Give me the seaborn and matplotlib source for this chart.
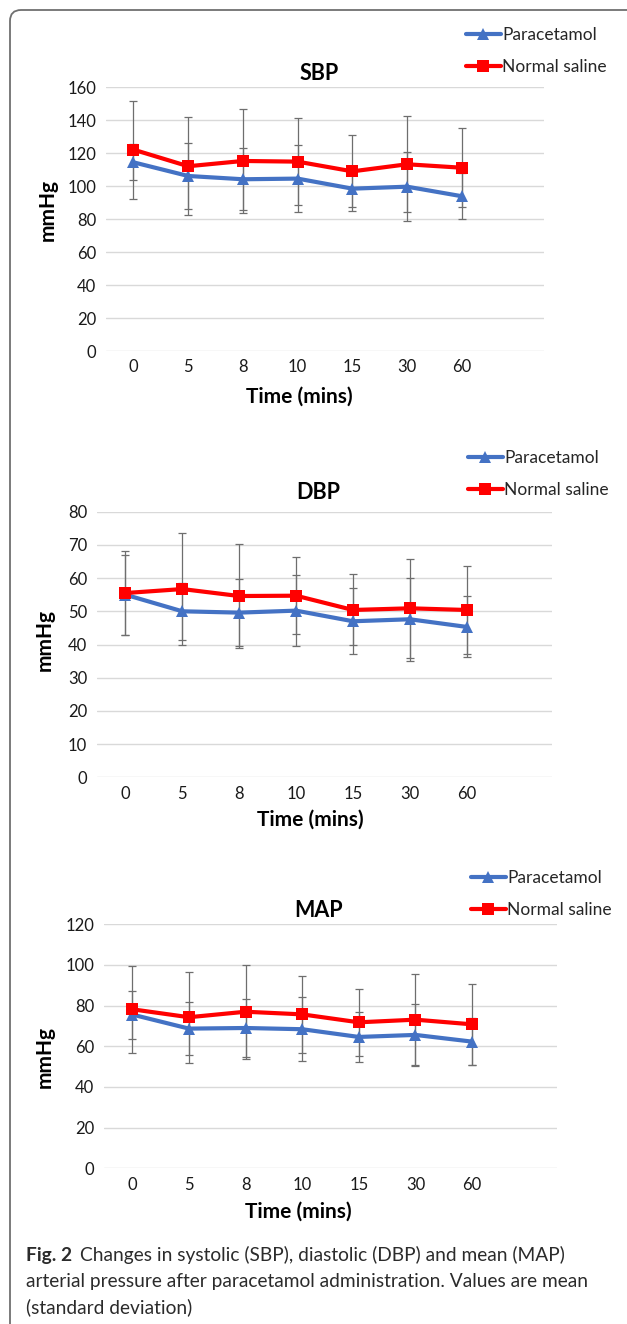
"""
Fig. 2 재현: SBP / DBP / MAP 변화 (평균 ± 표준편차)
"""

import numpy as np
import pandas as pd
import matplotlib
matplotlib.use('Agg')
import matplotlib.pyplot as plt
from matplotlib.patches import FancyBboxPatch
import seaborn as sns

# ---- 데이터 ----
times = ['0', '5', '8', '10', '15', '30', '60']
groups = ['Paracetamol', 'Normal saline']

sbp_para = [114.5, 106.2, 104.2, 104.6, 98.5, 99.7, 93.9]
sbp_para_sd = [11.0, 19.8, 18.8, 20.2, 13.3, 20.9, 13.9]
sbp_saline = [122.2, 112.1, 115.3, 114.9, 109.0, 113.3, 111.2]
sbp_saline_sd = [29.7, 29.7, 31.5, 26.3, 21.9, 29.1, 24.1]

dbp_para = [55.0, 50.0, 49.6, 50.2, 47.0, 47.6, 45.3]
dbp_para_sd = [12.0, 8.6, 10.0, 10.6, 9.9, 12.5, 9.2]
dbp_saline = [55.5, 56.7, 54.6, 54.7, 50.4, 50.9, 50.4]
dbp_saline_sd = [12.7, 16.9, 15.6, 11.6, 10.7, 14.9, 13.2]

map_para = [75.6, 68.7, 69.0, 68.4, 64.6, 65.6, 62.3]
map_para_sd = [11.8, 13.1, 14.4, 15.7, 12.3, 15.2, 11.6]
map_saline = [78.2, 74.3, 77.0, 75.7, 71.8, 73.1, 70.8]
map_saline_sd = [21.3, 22.3, 23.2, 19.1, 16.6, 22.5, 19.9]

titles = ['SBP', 'DBP', 'MAP']
y_max = [160, 80, 120]
y_step = [20, 10, 20]

caption_bold = 'Fig. 2'
caption_lines = ['Changes in systolic (SBP), diastolic (DBP) and mean (MAP)',
                 'arterial pressure after paracetamol administration. Values are mean',
                 '(standard deviation)']

# ---- 스타일 ----
sns.set_theme(style='white')
plt.rcParams['font.family'] = ['Lato', 'DejaVu Sans']

W, H = 627, 1324
colors = {'Paracetamol': '#4472C4', 'Normal saline': '#FF0000'}
markers = {'Paracetamol': '^', 'Normal saline': 's'}

fig = plt.figure(figsize=(W / 100, H / 100), dpi=100)

# 둥근 테두리 (오른쪽/아래는 잘려 있음)
border = FancyBboxPatch((0.10, -1.0), 8.0, 13.14 + 1.0,
                        boxstyle='round,pad=0,rounding_size=0.11',
                        transform=fig.dpi_scale_trans, fill=False,
                        edgecolor='#707070', linewidth=1.3)
fig.add_artist(border)

# 패널 배치 (픽셀 단위: 왼쪽, 오른쪽, 위(최대값), 아래(0))
panels = [
    dict(x0=106, x1=544, top=87.3, bottom=351.0, leg=(466, 27), title_x=0.486, title_pad=5,
         ylab=(48, 210), xlab=(299, 397)),
    dict(x0=97, x1=552, top=511.7, bottom=777.3, leg=(468, 450), title_x=0.486, title_pad=9,
         ylab=(45, 640), xlab=(310, 820)),
    dict(x0=104, x1=557, top=924.3, bottom=1168.3, leg=(471, 870), title_x=0.474, title_pad=5,
         ylab=(45, 1057), xlab=(298, 1212)),
]
series = [
    (sbp_para, sbp_para_sd, sbp_saline, sbp_saline_sd),
    (dbp_para, dbp_para_sd, dbp_saline, dbp_saline_sd),
    (map_para, map_para_sd, map_saline, map_saline_sd),
]

for i, (p, (m1, s1, m2, s2)) in enumerate(zip(panels, series)):
    ax = fig.add_axes([p['x0'] / W, 1 - p['bottom'] / H,
                       (p['x1'] - p['x0']) / W, (p['bottom'] - p['top']) / H])

    df = pd.DataFrame({
        'idx': list(range(len(times))) * 2,
        'value': m1 + m2,
        'group': [groups[0]] * len(times) + [groups[1]] * len(times),
    })

    # 표준편차 오차막대
    idx = np.arange(len(times))
    for m, s in [(m2, s2), (m1, s1)]:
        ax.errorbar(idx, m, yerr=s, fmt='none', ecolor='#6e6e6e',
                    elinewidth=0.9, capsize=3, capthick=0.9, zorder=2)

    sns.lineplot(data=df, x='idx', y='value', hue='group', style='group',
                 hue_order=groups, style_order=groups, palette=colors,
                 markers=markers, dashes=False, linewidth=3.0, markersize=8,
                 markeredgewidth=0, ax=ax, zorder=3)

    ax.set_xlim(-0.5, 7.5)
    ax.set_ylim(0, y_max[i])
    ax.set_yticks(np.arange(0, y_max[i] + 1, y_step[i]))
    ax.set_xticks(idx)
    ax.set_xticklabels(times)
    ax.tick_params(axis='both', length=0, labelsize=12, colors='#1a1a1a')
    ax.tick_params(axis='x', pad=6)
    ax.tick_params(axis='y', pad=7)
    ax.grid(axis='y', color='#d9d9d9', linewidth=1.0)
    ax.set_axisbelow(True)
    for sp in ax.spines.values():
        sp.set_visible(False)

    ax.set_title(titles[i], fontsize=15.5, fontweight='bold', x=p['title_x'],
                 pad=p['title_pad'], color='black')

    w = p['x1'] - p['x0']
    h = p['bottom'] - p['top']
    ax.set_ylabel('mmHg', fontsize=15, fontweight='bold', va='center', color='black')
    ax.yaxis.set_label_coords((p['ylab'][0] - p['x0']) / w, (p['bottom'] - p['ylab'][1]) / h)
    ax.set_xlabel('Time (mins)', fontsize=15, fontweight='bold', va='center', color='black')
    ax.xaxis.set_label_coords((p['xlab'][0] - p['x0']) / w, (p['bottom'] - p['xlab'][1]) / h)

    handles, labels = ax.get_legend_handles_labels()
    ax.legend(handles, labels, loc='upper left',
              bbox_to_anchor=(p['leg'][0] / W, 1 - p['leg'][1] / H),
              bbox_transform=fig.transFigure, frameon=False, fontsize=12.5,
              handlelength=2.0, handletextpad=0.1, labelspacing=0.9,
              borderpad=0, borderaxespad=0)

# ---- 캡션 ----
cap_color = '#2b2b2b'
cap_size = 13.8
bold = fig.text(26 / W, 1 - 1255 / H, caption_bold, fontsize=cap_size, fontweight='bold',
                va='center', ha='left', color=cap_color)
ax.annotate(caption_lines[0], xy=(1, 0.5), xycoords=bold, xytext=(6, 0),
            textcoords='offset points', va='center', ha='left',
            fontsize=cap_size, color=cap_color, annotation_clip=False)
fig.text(26 / W, 1 - 1281 / H, caption_lines[1], fontsize=cap_size, va='center',
         ha='left', color=cap_color)
fig.text(26 / W, 1 - 1307 / H, caption_lines[2], fontsize=cap_size, va='center',
         ha='left', color=cap_color)

plt.savefig('out.png', dpi=100)
plt.close()
